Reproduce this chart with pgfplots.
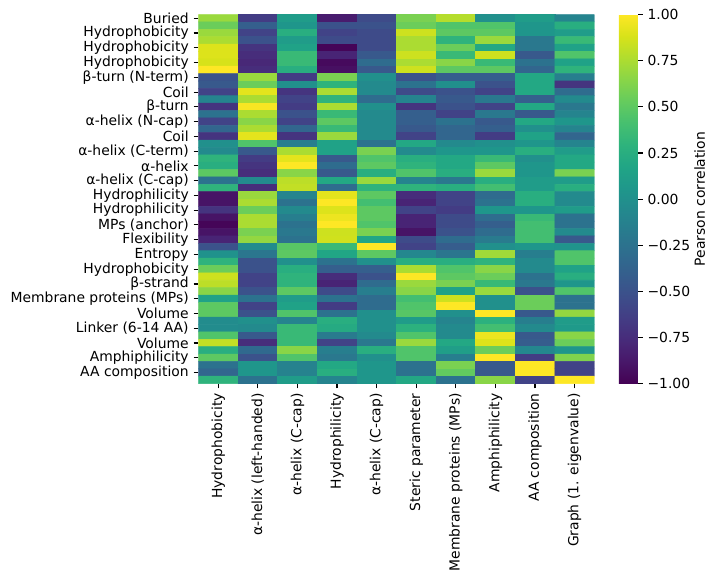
\documentclass[border=0pt]{standalone}
\usepackage{fontspec}
\setmainfont{DejaVu Sans}
\usepackage{pgfplots}
\pgfplotsset{compat=1.18}

\begin{document}
\begin{tikzpicture}
% page frame around the heatmap (heatmap box: 285.1pt x 265.7pt)
\useasboundingbox (-142.9pt,-142.8pt) rectangle (374.8pt,276.2pt);
\begin{axis}[
  scale only axis,
  width=285.1pt, height=265.7pt,
  xmin=-0.5, xmax=9.5, ymin=-0.5, ymax=49.5,
  y dir=reverse,
  enlargelimits=false,
  axis line style={draw=none},
  tick pos=left,
  tick align=outside,
  major tick length=3.5pt,
  tick style={black, line width=0.8pt},
  xtick={0,...,9},
  xticklabels={Hydrophobicity, α-helix (left-handed), α-helix (C-cap), Hydrophilicity, α-helix (C-cap), Steric parameter, Membrane proteins (MPs), Amphiphilicity, AA composition, Graph (1. eigenvalue)},
  xticklabel style={rotate=90, anchor=east, font=\fontsize{10}{12}\selectfont},
  ytick={0,2,...,48},
  yticklabels={Buried, Hydrophobicity, Hydrophobicity, Hydrophobicity, β-turn (N-term), Coil, β-turn, α-helix (N-cap), Coil, α-helix (C-term), α-helix, α-helix (C-cap), Hydrophilicity, Hydrophilicity, MPs (anchor), Flexibility, Entropy, Hydrophobicity, β-strand, Membrane proteins (MPs), Volume, Linker (6-14 AA), Volume, Amphiphilicity, AA composition},
  yticklabel style={font=\fontsize{10}{12}\selectfont},
  colormap/viridis,
  point meta min=-1, point meta max=1,
  colorbar,
  colorbar style={
    at={(parent axis.north east)}, anchor=north west,
    xshift=9pt,
    width=13.7pt,
    scale only axis,
    axis line style={draw=none},
    tick align=outside,
    major tick length=3.5pt,
    tick style={black, line width=0.8pt},
    ytick={-1,-0.75,-0.5,-0.25,0,0.25,0.5,0.75,1},
    yticklabels={−1.00,−0.75,−0.50,−0.25,0.00,0.25,0.50,0.75,1.00},
    yticklabel style={font=\fontsize{10}{12}\selectfont},
    ytick pos=right, yticklabel pos=right,
    ylabel={Pearson correlation},
    every axis y label/.style={
      at={(axis description cs:4.26,0.5)}, rotate=90, anchor=center,
      font=\fontsize{10}{12}\selectfont},
  },
]
\addplot[matrix plot*, mesh/cols=10, point meta=explicit] coordinates {
(0,0)[0.70] (1,0)[-0.65] (2,0)[0.10] (3,0)[-0.85] (4,0)[-0.55] (5,0)[0.60] (6,0)[0.78] (7,0)[0.00] (8,0)[0.10] (9,0)[-0.10]
(0,1)[0.55] (1,1)[-0.40] (2,1)[0.05] (3,1)[-0.50] (4,1)[-0.50] (5,1)[0.55] (6,1)[0.45] (7,1)[0.45] (8,1)[0.05] (9,1)[0.25]
(0,2)[0.70] (1,2)[-0.60] (2,2)[0.25] (3,2)[-0.60] (4,2)[-0.55] (5,2)[0.85] (6,2)[0.50] (7,2)[0.50] (8,2)[0.05] (9,2)[0.10]
(0,3)[0.75] (1,3)[-0.50] (2,3)[0.10] (3,3)[-0.55] (4,3)[-0.55] (5,3)[0.75] (6,3)[0.30] (7,3)[0.70] (8,3)[-0.20] (9,3)[0.35]
(0,4)[0.90] (1,4)[-0.70] (2,4)[0.15] (3,4)[-0.98] (4,4)[-0.55] (5,4)[0.75] (6,4)[0.55] (7,4)[0.20] (8,4)[-0.20] (9,4)[0.15]
(0,5)[0.90] (1,5)[-0.75] (2,5)[0.35] (3,5)[-0.80] (4,5)[-0.45] (5,5)[0.85] (6,5)[0.35] (7,5)[0.85] (8,5)[-0.45] (9,5)[0.45]
(0,6)[0.88] (1,6)[-0.78] (2,6)[0.35] (3,6)[-0.95] (4,6)[-0.30] (5,6)[0.75] (6,6)[0.65] (7,6)[0.35] (8,6)[-0.25] (9,6)[0.15]
(0,7)[1.00] (1,7)[-0.75] (2,7)[0.25] (3,7)[-0.92] (4,7)[-0.45] (5,7)[0.85] (6,7)[0.50] (7,7)[0.50] (8,7)[-0.35] (9,7)[0.30]
(0,8)[-0.50] (1,8)[0.70] (2,8)[-0.65] (3,8)[0.60] (4,8)[0.00] (5,8)[-0.50] (6,8)[-0.40] (7,8)[-0.40] (8,8)[0.20] (9,8)[-0.15]
(0,9)[-0.45] (1,9)[0.55] (2,9)[0.00] (3,9)[0.30] (4,9)[-0.05] (5,9)[-0.25] (6,9)[0.00] (7,9)[-0.50] (8,9)[0.20] (9,9)[-0.70]
(0,10)[-0.60] (1,10)[0.92] (2,10)[-0.70] (3,10)[0.75] (4,10)[-0.05] (5,10)[-0.55] (6,10)[-0.50] (7,10)[-0.60] (8,10)[0.20] (9,10)[-0.30]
(0,11)[-0.10] (1,11)[0.75] (2,11)[-0.60] (3,11)[0.30] (4,11)[-0.30] (5,11)[-0.10] (6,11)[-0.45] (7,11)[-0.20] (8,11)[-0.40] (9,11)[-0.05]
(0,12)[-0.70] (1,12)[0.98] (2,12)[-0.65] (3,12)[0.75] (4,12)[0.00] (5,12)[-0.70] (6,12)[-0.50] (7,12)[-0.60] (8,12)[0.20] (9,12)[-0.20]
(0,13)[-0.25] (1,13)[0.75] (2,13)[-0.50] (3,13)[0.35] (4,13)[-0.05] (5,13)[-0.40] (6,13)[-0.60] (7,13)[-0.20] (8,13)[-0.45] (9,13)[-0.10]
(0,14)[-0.60] (1,14)[0.65] (2,14)[-0.60] (3,14)[0.50] (4,14)[-0.05] (5,14)[-0.40] (6,14)[-0.25] (7,14)[-0.45] (8,14)[0.20] (9,14)[0.05]
(0,15)[-0.35] (1,15)[0.75] (2,15)[-0.35] (3,15)[0.35] (4,15)[-0.05] (5,15)[-0.45] (6,15)[-0.35] (7,15)[-0.40] (8,15)[0.00] (9,15)[-0.10]
(0,16)[-0.70] (1,16)[0.92] (2,16)[-0.70] (3,16)[0.70] (4,16)[-0.05] (5,16)[-0.60] (6,16)[-0.35] (7,16)[-0.65] (8,16)[0.15] (9,16)[-0.35]
(0,17)[0.00] (1,17)[0.45] (2,17)[-0.15] (3,17)[0.15] (4,17)[-0.25] (5,17)[0.20] (6,17)[-0.05] (7,17)[0.00] (8,17)[0.05] (9,17)[-0.10]
(0,18)[-0.05] (1,18)[-0.45] (2,18)[0.75] (3,18)[0.15] (4,18)[0.60] (5,18)[-0.05] (6,18)[0.05] (7,18)[0.05] (8,18)[0.25] (9,18)[0.10]
(0,19)[0.30] (1,19)[-0.65] (2,19)[0.92] (3,19)[-0.45] (4,19)[0.45] (5,19)[0.25] (6,19)[0.20] (7,19)[0.35] (8,19)[0.00] (9,19)[0.20]
(0,20)[0.25] (1,20)[-0.70] (2,20)[1.00] (3,20)[-0.30] (4,20)[0.50] (5,20)[0.30] (6,20)[0.20] (7,20)[0.50] (8,20)[0.05] (9,20)[0.20]
(0,21)[0.50] (1,21)[-0.75] (2,21)[0.65] (3,21)[-0.45] (4,21)[0.25] (5,21)[0.45] (6,21)[0.25] (7,21)[0.70] (8,21)[0.05] (9,21)[0.60]
(0,22)[-0.25] (1,22)[-0.05] (2,22)[0.80] (3,22)[0.20] (4,22)[0.70] (5,22)[-0.10] (6,22)[-0.20] (7,22)[0.25] (8,22)[0.10] (9,22)[0.10]
(0,23)[0.30] (1,23)[-0.75] (2,23)[0.82] (3,23)[-0.30] (4,23)[0.30] (5,23)[0.30] (6,23)[0.25] (7,23)[0.40] (8,23)[0.10] (9,23)[0.25]
(0,24)[-0.90] (1,24)[0.70] (2,24)[-0.10] (3,24)[0.92] (4,24)[0.50] (5,24)[-0.75] (6,24)[-0.60] (7,24)[-0.30] (8,24)[0.25] (9,24)[-0.05]
(0,25)[-0.90] (1,25)[0.75] (2,25)[-0.25] (3,25)[1.00] (4,25)[0.40] (5,25)[-0.80] (6,25)[-0.60] (7,25)[-0.25] (8,25)[0.25] (9,25)[-0.05]
(0,26)[-0.70] (1,26)[0.55] (2,26)[-0.05] (3,26)[0.90] (4,26)[0.50] (5,26)[-0.60] (6,26)[-0.65] (7,26)[0.05] (8,26)[0.05] (9,26)[0.10]
(0,27)[-0.90] (1,27)[0.75] (2,27)[-0.15] (3,27)[0.95] (4,27)[0.50] (5,27)[-0.80] (6,27)[-0.55] (7,27)[-0.30] (8,27)[0.35] (9,27)[-0.25]
(0,28)[-0.98] (1,28)[0.75] (2,28)[-0.25] (3,28)[1.00] (4,28)[0.45] (5,28)[-0.80] (6,28)[-0.55] (7,28)[-0.40] (8,28)[0.40] (9,28)[-0.25]
(0,29)[-0.90] (1,29)[0.60] (2,29)[-0.20] (3,29)[0.85] (4,29)[0.60] (5,29)[-0.90] (6,29)[-0.50] (7,29)[-0.30] (8,29)[0.40] (9,29)[-0.05]
(0,30)[-0.80] (1,30)[0.68] (2,30)[-0.25] (3,30)[0.86] (4,30)[0.18] (5,30)[-0.55] (6,30)[-0.30] (7,30)[-0.18] (8,30)[0.40] (9,30)[-0.45]
(0,31)[-0.50] (1,31)[-0.03] (2,31)[0.48] (3,31)[0.35] (4,31)[1.00] (5,31)[-0.60] (6,31)[-0.42] (7,31)[0.00] (8,31)[0.05] (9,31)[0.03]
(0,32)[0.02] (1,32)[-0.22] (2,32)[0.50] (3,32)[0.18] (4,32)[0.50] (5,32)[-0.08] (6,32)[-0.22] (7,32)[0.72] (8,32)[-0.15] (9,32)[0.45]
(0,33)[0.30] (1,33)[-0.50] (2,33)[0.00] (3,33)[-0.25] (4,33)[0.00] (5,33)[0.25] (6,33)[0.25] (7,33)[0.30] (8,33)[-0.05] (9,33)[0.45]
(0,34)[0.55] (1,34)[-0.50] (2,34)[0.25] (3,34)[-0.40] (4,34)[-0.40] (5,34)[0.75] (6,34)[0.45] (7,34)[0.65] (8,34)[-0.05] (9,34)[0.15]
(0,35)[0.85] (1,35)[-0.60] (2,35)[0.30] (3,35)[-0.75] (4,35)[-0.50] (5,35)[1.00] (6,35)[0.50] (7,35)[0.55] (8,35)[-0.25] (9,35)[0.25]
(0,36)[0.80] (1,36)[-0.60] (2,36)[0.30] (3,36)[-0.80] (4,36)[-0.30] (5,36)[0.70] (6,36)[0.60] (7,36)[0.35] (8,36)[-0.20] (9,36)[0.05]
(0,37)[0.65] (1,37)[-0.50] (2,37)[0.50] (3,37)[-0.55] (4,37)[-0.15] (5,37)[0.65] (6,37)[0.15] (7,37)[0.70] (8,37)[-0.50] (9,37)[0.45]
(0,38)[0.15] (1,38)[-0.25] (2,38)[0.10] (3,38)[-0.25] (4,38)[-0.30] (5,38)[0.40] (6,38)[0.85] (7,38)[0.00] (8,38)[0.55] (9,38)[-0.25]
(0,39)[0.50] (1,39)[-0.60] (2,39)[0.15] (3,39)[-0.65] (4,39)[-0.30] (5,39)[0.45] (6,39)[1.00] (7,39)[0.00] (8,39)[0.55] (9,39)[-0.25]
(0,40)[0.50] (1,40)[-0.50] (2,40)[0.45] (3,40)[-0.25] (4,40)[0.00] (5,40)[0.48] (6,40)[0.00] (7,40)[1.00] (8,40)[-0.45] (9,40)[0.68]
(0,41)[-0.03] (1,41)[0.00] (2,41)[-0.10] (3,41)[0.25] (4,41)[0.00] (5,41)[0.10] (6,41)[-0.10] (7,41)[0.28] (8,41)[-0.15] (9,41)[0.10]
(0,42)[-0.03] (1,42)[-0.05] (2,42)[0.35] (3,42)[0.22] (4,42)[0.00] (5,42)[0.28] (6,42)[-0.05] (7,42)[0.40] (8,42)[-0.05] (9,42)[0.08]
(0,43)[0.45] (1,43)[-0.45] (2,43)[0.35] (3,43)[-0.18] (4,43)[-0.05] (5,43)[0.45] (6,43)[-0.05] (7,43)[0.95] (8,43)[-0.45] (9,43)[0.65]
(0,44)[0.82] (1,44)[-0.75] (2,44)[0.35] (3,44)[-0.60] (4,44)[-0.20] (5,44)[0.70] (6,44)[0.20] (7,44)[0.90] (8,44)[-0.42] (9,44)[0.55]
(0,45)[0.25] (1,45)[-0.32] (2,45)[0.65] (3,45)[-0.15] (4,45)[0.25] (5,45)[0.45] (6,45)[0.12] (7,45)[0.55] (8,45)[-0.08] (9,45)[0.05]
(0,46)[0.50] (1,46)[-0.50] (2,46)[0.45] (3,46)[-0.20] (4,46)[0.00] (5,46)[0.45] (6,46)[-0.15] (7,46)[1.00] (8,46)[-0.65] (9,46)[0.62]
(0,47)[-0.25] (1,47)[0.05] (2,47)[-0.12] (3,47)[0.20] (4,47)[0.05] (5,47)[-0.25] (6,47)[0.60] (7,47)[-0.45] (8,47)[1.00] (9,47)[-0.60]
(0,48)[-0.35] (1,48)[0.05] (2,48)[-0.12] (3,48)[0.25] (4,48)[0.05] (5,48)[-0.25] (6,48)[0.52] (7,48)[-0.45] (8,48)[1.00] (9,48)[-0.60]
(0,49)[0.30] (1,49)[-0.25] (2,49)[0.10] (3,49)[-0.10] (4,49)[0.05] (5,49)[0.20] (6,49)[-0.25] (7,49)[0.65] (8,49)[-0.60] (9,49)[1.00]
};
\end{axis}
\end{tikzpicture}
\end{document}
